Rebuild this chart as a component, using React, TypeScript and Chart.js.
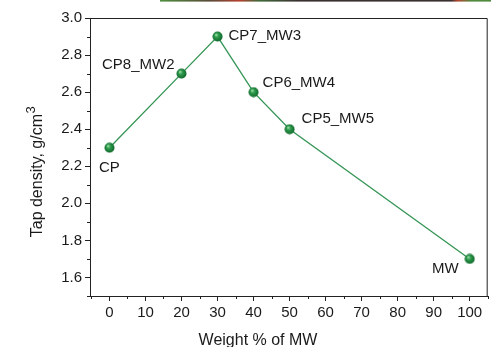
import React, { useEffect, useRef } from "react";
import { Chart, registerables } from "chart.js";

Chart.register(...registerables);

const weightPct = [0, 20, 30, 40, 50, 100];
const tapDensity = [2.3, 2.7, 2.9, 2.6, 2.4, 1.7];
const sampleNames = ["CP", "CP8_MW2", "CP7_MW3", "CP6_MW4", "CP5_MW5", "MW"];
const xTicks = [0, 10, 20, 30, 40, 50, 60, 70, 80, 90, 100];
const yTicks = [1.6, 1.8, 2.0, 2.2, 2.4, 2.6, 2.8, 3.0];
const xMinorTicks = [-5, 5, 15, 25, 35, 45, 55, 65, 75, 85, 95, 105];
const yMinorTicks = [1.5, 1.7, 1.9, 2.1, 2.3, 2.5, 2.7, 2.9];
const xTitle = "Weight % of MW";
const yTitle = "Tap density, g/cm";
const yTitleSup = "3";

// label placement (style): [dx, dy, align]
const labelPlacement: [number, number, CanvasTextAlign][] = [
  [0, 20, "center"],
  [-7, -9, "right"],
  [11, -1, "left"],
  [9, -9, "left"],
  [12, -10, "left"],
  [-11, 10, "right"],
];

const FONT = "'Liberation Sans', Arial, sans-serif";
const TEXT = "#1a1a1a";
const CANVAS_W = 494;

function makeSphere(): HTMLCanvasElement {
  const c = document.createElement("canvas");
  c.width = 11;
  c.height = 11;
  const ctx = c.getContext("2d")!;
  const g = ctx.createRadialGradient(4, 3.6, 0.3, 5.5, 5.5, 5.5);
  g.addColorStop(0, "#9be0a8");
  g.addColorStop(0.35, "#2f9a4c");
  g.addColorStop(0.8, "#157533");
  g.addColorStop(1, "#0d5a24");
  ctx.fillStyle = g;
  ctx.beginPath();
  ctx.arc(5.5, 5.5, 5, 0, Math.PI * 2);
  ctx.fill();
  return c;
}

const decoPlugin = {
  id: "deco",
  beforeDraw(chart: any) {
    const ctx = chart.ctx;
    ctx.save();
    const g = ctx.createLinearGradient(160, 0, 491, 0);
    g.addColorStop(0, "#4f8f3e");
    g.addColorStop(0.15, "#5a4a38");
    g.addColorStop(0.24, "#b5402e");
    g.addColorStop(0.3, "#3f6a3a");
    g.addColorStop(0.42, "#3b3030");
    g.addColorStop(0.88, "#3b3030");
    g.addColorStop(0.9, "#b5452e");
    g.addColorStop(0.94, "#4f8a3e");
    g.addColorStop(1, "#4f8a3e");
    ctx.fillStyle = g;
    ctx.fillRect(160, 0, 334, 1.6);
    ctx.restore();
  },
  afterDraw(chart: any) {
    const ctx = chart.ctx;
    const a = chart.chartArea;
    const xs = chart.scales.x;
    const ys = chart.scales.y;
    ctx.save();
    // frame top & right
    ctx.strokeStyle = "#222";
    ctx.lineWidth = 1;
    ctx.beginPath();
    ctx.moveTo(a.left, a.top + 0.5);
    ctx.lineTo(a.right - 0.5, a.top + 0.5);
    ctx.lineTo(a.right - 0.5, a.bottom);
    ctx.stroke();
    // minor ticks
    ctx.beginPath();
    xMinorTicks.forEach((v) => {
      const px = Math.round(xs.getPixelForValue(v)) + 0.5;
      if (px < a.left - 1 || px > a.right + 1) return;
      ctx.moveTo(px, a.bottom);
      ctx.lineTo(px, a.bottom + 3);
    });
    yMinorTicks.forEach((v) => {
      const py = Math.round(ys.getPixelForValue(v)) + 0.5;
      ctx.moveTo(a.left, py);
      ctx.lineTo(a.left - 3, py);
    });
    ctx.stroke();
    // point labels
    ctx.fillStyle = TEXT;
    ctx.font = `15px ${FONT}`;
    ctx.textBaseline = "middle";
    sampleNames.forEach((name, i) => {
      const px = xs.getPixelForValue(weightPct[i]);
      const py = ys.getPixelForValue(tapDensity[i]);
      const [dx, dy, al] = labelPlacement[i];
      ctx.textAlign = al;
      ctx.fillText(name, px + dx, py + dy);
    });
    // x title
    ctx.font = `16px ${FONT}`;
    ctx.textAlign = "center";
    ctx.textBaseline = "alphabetic";
    ctx.fillText(xTitle, 258, 345);
    // y title with superscript
    ctx.translate(36, (a.top + a.bottom) / 2 + 15);
    ctx.rotate(-Math.PI / 2);
    ctx.font = `16px ${FONT}`;
    const w = ctx.measureText(yTitle).width;
    ctx.font = `13px ${FONT}`;
    const w3 = ctx.measureText(yTitleSup).width;
    const start = -(w + w3) / 2;
    ctx.textAlign = "left";
    ctx.font = `16px ${FONT}`;
    ctx.fillText(yTitle, start, 6);
    ctx.font = `13px ${FONT}`;
    ctx.fillText(yTitleSup, start + w + 0.5, -1);
    ctx.restore();
  },
};

export default function App() {
  const ref = useRef<HTMLCanvasElement>(null);
  useEffect(() => {
    const sphere = makeSphere();
    const chart = new Chart(ref.current!, {
      type: "line",
      data: {
        datasets: [
          {
            data: weightPct.map((x, i) => ({ x, y: tapDensity[i] })),
            borderColor: "#359556",
            borderWidth: 1.3,
            pointStyle: sphere as any,
            pointRadius: 5,
            tension: 0,
          },
        ],
      },
      options: {
        animation: false,
        responsive: false,
        devicePixelRatio: 1,
        layout: { padding: { top: 18, right: 0, left: 0, bottom: 0 } },
        plugins: { legend: { display: false }, tooltip: { enabled: false } },
        scales: {
          x: {
            type: "linear",
            min: -5.4,
            max: 105,
            afterBuildTicks: (s: any) => {
              s.ticks = xTicks.map((v) => ({ value: v }));
            },
            afterFit: (s: any) => {
              s.height = 51;
              s.paddingLeft = 0;
              s.paddingRight = 0;
            },
            grid: { drawOnChartArea: false, tickLength: 5, color: "#222", tickWidth: 1 },
            border: { color: "#222", width: 1 },
            ticks: { color: TEXT, font: { family: FONT, size: 15 }, padding: 3, maxRotation: 0, autoSkip: false },
          },
          y: {
            type: "linear",
            min: 1.5,
            max: 3.0,
            afterBuildTicks: (s: any) => {
              s.ticks = yTicks.map((v) => ({ value: v }));
            },
            afterFit: (s: any) => {
              s.width = 90;
              s.paddingTop = 0;
              s.paddingBottom = 0;
            },
            grid: { drawOnChartArea: false, tickLength: 5, color: "#222", tickWidth: 1 },
            border: { color: "#222", width: 1 },
            ticks: {
              color: TEXT,
              font: { family: FONT, size: 15 },
              padding: 3,
              autoSkip: false,
              callback: (v: any) => Number(v).toFixed(1),
            },
          },
        },
      },
      plugins: [decoPlugin],
    });
    return () => chart.destroy();
  }, []);
  return (
    <div style={{ position: "fixed", left: 0, top: 0, width: 491, height: 347, overflow: "hidden", background: "#fff" }}>
      <canvas ref={ref} width={CANVAS_W} height={347} style={{ display: "block" }} />
    </div>
  );
}
